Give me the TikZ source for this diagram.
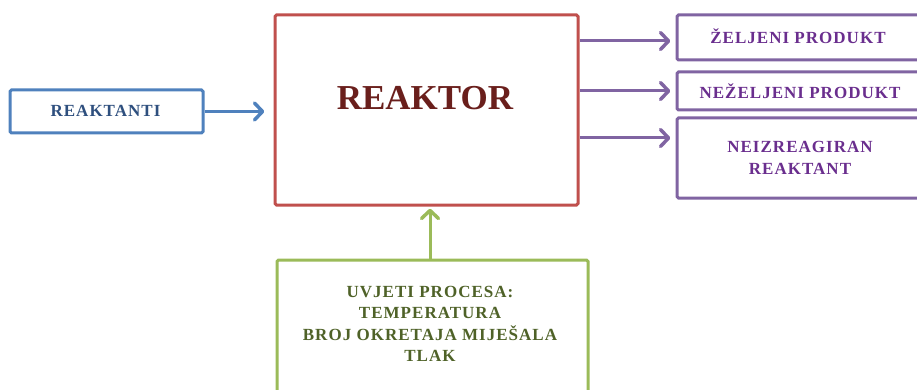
\documentclass[tikz,border=0pt]{standalone}
\usepackage{fontspec}
\setmainfont{Liberation Serif}
\definecolor{cblue}{HTML}{4F81BD}
\definecolor{cred}{HTML}{C0504D}
\definecolor{cpurple}{HTML}{8064A2}
\definecolor{cgreen}{HTML}{9BBB59}
\definecolor{tblue}{HTML}{2E4F7E}
\definecolor{tred}{HTML}{6A1F1C}
\definecolor{tpurple}{HTML}{6A2E8E}
\definecolor{tgreen}{HTML}{4F6228}
\newfontfamily\spaced[LetterSpace=6]{Liberation Serif}
\tikzset{
  box/.style={draw, line width=3pt, rounded corners=1.5pt, fill=white, inner sep=0pt, align=center},
  lbl/.style={align=center, inner sep=0pt, font=\spaced\bfseries\fontsize{17}{21.5}\selectfont},
  conn/.style={line width=3pt},
  chev/.pic={\draw[line width=3.5pt, line cap=round, line join=round] (-8pt,8.5pt) -- (0pt,0pt) -- (-8pt,-8.5pt);},
}
\begin{document}
\begin{tikzpicture}[x=1pt,y=-1pt]
\useasboundingbox (0,0) rectangle (917,390);
\clip (0,0) rectangle (917,390);
\node[box, draw=cblue, minimum width=193pt, minimum height=43pt] (reak) at (106.5,111.5) {};
\node[lbl, text=tblue] (rt) at (105.5,111) {REAKTANTI};
\node[box, draw=cred, minimum width=303pt, minimum height=190pt] (reactor) at (426.5,110) {};
\node[text=tred, font=\bfseries\fontsize{35}{40}\selectfont] (rlabel) at (425,98) {REAKTOR};
\node[box, draw=cpurple, minimum width=273pt, minimum height=45pt] (p1) at (813.5,37.5) {};
\node[lbl, text=tpurple] (t1) at (798,36) {ŽELJENI PRODUKT};
\node[box, draw=cpurple, minimum width=273pt, minimum height=38pt] (p2) at (813.5,91) {};
\node[lbl, text=tpurple] (t2) at (800,91) {NEŽELJENI PRODUKT};
\node[box, draw=cpurple, minimum width=273pt, minimum height=80pt] (p3) at (813.5,158) {};
\node[lbl, text=tpurple] (t3) at (800,158) {NEIZREAGIRAN\\REAKTANT};
\node[box, draw=cgreen, minimum width=311pt, minimum height=170pt] (cond) at (432.5,345) {};
\node[lbl, text=tgreen] (ct) at (430,324)
  {UVJETI PROCESA:\\TEMPERATURA\\BROJ OKRETAJA MIJEŠALA\\TLAK};
\draw[conn, color=cblue] (reak.east) -- ([xshift=-11pt]reactor.west |- reak.east)
  pic[pos=1, sloped, allow upside down, color=cblue]{chev};
\draw[conn, color=cpurple] (reactor.east |- 0,41) -- ([xshift=-7pt]p1.west |- 0,41)
  pic[pos=1, sloped, allow upside down, color=cpurple]{chev};
\draw[conn, color=cpurple] (reactor.east |- 0,91) -- ([xshift=-7pt]p2.west |- 0,91)
  pic[pos=1, sloped, allow upside down, color=cpurple]{chev};
\draw[conn, color=cpurple] (reactor.east |- 0,138) -- ([xshift=-7pt]p3.west |- 0,138)
  pic[pos=1, sloped, allow upside down, color=cpurple]{chev};
\draw[conn, color=cgreen] (cond.north -| 430,0) -- ([yshift=-4pt]reactor.south -| 430,0)
  pic[pos=1, sloped, allow upside down, color=cgreen]{chev};
\end{tikzpicture}
\end{document}
